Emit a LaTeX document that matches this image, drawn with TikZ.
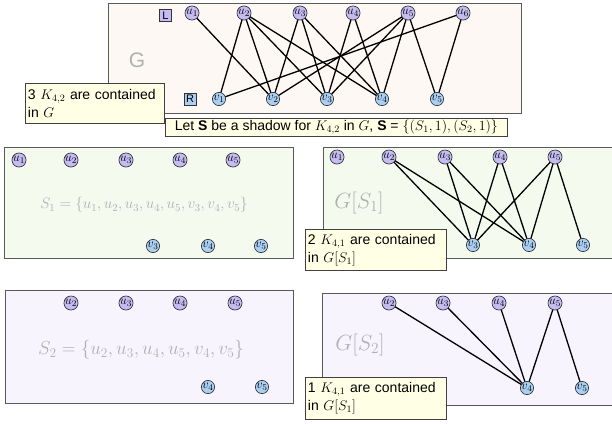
\documentclass[tikz,border=0pt]{standalone}
\usepackage{fix-cm}
\usepackage{fontspec}
\setmainfont{Liberation Sans}
\pgfdeclarelayer{boxlayer}
\pgfdeclarelayer{edgelayer}
\pgfsetlayers{boxlayer,edgelayer,main}
\definecolor{gfill}{HTML}{FDF8F4}
\definecolor{greenfill}{HTML}{F4FAEE}
\definecolor{purplefill}{HTML}{F8F4FD}
\definecolor{notefill}{HTML}{FFFFE6}
\definecolor{ufill}{HTML}{C4BCF2}
\definecolor{vfill}{HTML}{AACFF2}
\definecolor{labelgray}{HTML}{B0B0B0}
\tikzset{
  bigbox/.style={draw=black!65, line width=0.8pt, anchor=north west, inner sep=0pt},
  basenode/.style={circle, draw=black!85, line width=0.6pt, minimum size=13pt, inner sep=0pt, font=\fontsize{12.5}{12.5}\selectfont},
  unode/.style={basenode, fill=ufill},
  vnode/.style={basenode, fill=vfill},
  tagbox/.style={draw=black!80, line width=0.6pt, minimum size=12pt, inner sep=0pt, font=\fontsize{11}{11}\selectfont},
  note/.style={draw=black!75, fill=notefill, line width=0.8pt, align=left, anchor=north west, inner sep=2.5pt, font=\fontsize{14}{18}\selectfont},
  grayset/.style={text=labelgray},
  edge/.style={line width=1.3pt, black},
}
\begin{document}
\begin{tikzpicture}[x=1pt,y=-1pt]
\useasboundingbox (0,0) rectangle (612,423);
% ---------- boxes
\begin{pgfonlayer}{boxlayer}
\node[bigbox, fill=gfill, minimum width=413pt, minimum height=110pt] (gbox) at (108,3) {};
\node[bigbox, fill=greenfill, minimum width=289pt, minimum height=111pt] (s1box) at (4,147) {};
\node[bigbox, fill=greenfill, minimum width=292pt, minimum height=111pt] (gs1box) at (323,147) {};
\node[bigbox, fill=purplefill, minimum width=288pt, minimum height=113pt] (s2box) at (5,290) {};
\node[bigbox, fill=purplefill, minimum width=293pt, minimum height=112pt] (gs2box) at (322,293) {};
\end{pgfonlayer}
% ---------- top graph G
\node[grayset, font=\fontsize{21}{21}\selectfont] (glabel) at (137,60) {G};
\node[tagbox, fill=ufill] (ltag) at (165.5,15.5) {L};
\node[tagbox, fill=vfill] (rtag) at (190,99) {R};
\foreach \n/\x in {1/192,2/244,3/300,4/353,5/408,6/463}
  \node[unode] (tu\n) at (\x,13) {$u_{\n}$};
\foreach \n/\x in {1/219,2/273,3/327,4/382,5/437}
  \node[vnode] (tv\n) at (\x,99) {$v_{\n}$};
\begin{pgfonlayer}{edgelayer}
\foreach \a/\b in {1/2, 2/1,2/2,2/3,2/4, 3/2,3/3,3/4, 4/3,4/4, 5/2,5/3,5/4,5/5, 6/1,6/5}
  \draw[edge] (tu\a.center) -- (tv\b.center);
\end{pgfonlayer}
\node[note, text width=134pt, minimum height=40pt] (note1) at (25,83) {3 $K_{4,2}$ are contained\\in $G$};
\node[note, minimum width=342pt, minimum height=18pt, inner sep=1pt] (note0) at (165,118) {Let \textbf{S} be a shadow for $K_{4,2}$ in $G$,\ \textbf{S} = $\{(S_1,1),(S_2,1)\}$};
% ---------- S1
\foreach \n/\x in {1/19,2/71,3/126,4/180,5/233}
  \node[unode] (au\n) at (\x,160) {$u_{\n}$};
\foreach \n/\x in {3/153,4/208,5/261}
  \node[vnode] (av\n) at (\x,246) {$v_{\n}$};
\node[grayset, font=\fontsize{15.2}{15.2}\selectfont] (s1text) at (144,205) {$S_1=\{u_1,u_2,u_3,u_4,u_5,v_3,v_4,v_5\}$};
% ---------- G[S1]
\foreach \n/\x in {1/337,2/389,3/445,4/500,5/555}
  \node[unode] (bu\n) at (\x,157) {$u_{\n}$};
\foreach \n/\x in {3/473,4/529,5/583}
  \node[vnode] (bv\n) at (\x,245) {$v_{\n}$};
\begin{pgfonlayer}{edgelayer}
\foreach \a/\b in {2/3,2/4,3/3,3/4,4/3,4/4,5/3,5/4,5/5}
  \draw[edge] (bu\a.center) -- (bv\b.center);
\end{pgfonlayer}
\node[grayset, font=\fontsize{22}{22}\selectfont] (gs1label) at (359,203) {$G[S_1]$};
\node[note, text width=136pt, minimum height=41pt] (note2) at (305,229) {2 $K_{4,1}$ are contained\\in $G[S_1]$};
% ---------- S2
\foreach \n/\x in {2/71,3/126,4/180,5/235}
  \node[unode] (cu\n) at (\x,303) {$u_{\n}$};
\foreach \n/\x in {4/208,5/262}
  \node[vnode] (cv\n) at (\x,387) {$v_{\n}$};
\node[grayset, font=\fontsize{19}{19}\selectfont] (s2text) at (141,350) {$S_2=\{u_2,u_3,u_4,u_5,v_4,v_5\}$};
% ---------- G[S2]
\foreach \n/\x in {2/389,3/443,4/499,5/555}
  \node[unode] (du\n) at (\x,303) {$u_{\n}$};
\foreach \n/\x in {4/527,5/582}
  \node[vnode] (dv\n) at (\x,388) {$v_{\n}$};
\begin{pgfonlayer}{edgelayer}
\foreach \a/\b in {2/4,3/4,4/4,5/4,5/5}
  \draw[edge] (du\a.center) -- (dv\b.center);
\end{pgfonlayer}
\node[grayset, font=\fontsize{22}{22}\selectfont] (gs2label) at (360,345) {$G[S_2]$};
\node[note, text width=136pt, minimum height=42pt] (note3) at (305,377) {1 $K_{4,1}$ are contained\\in $G[S_1]$};
\end{tikzpicture}
\end{document}
